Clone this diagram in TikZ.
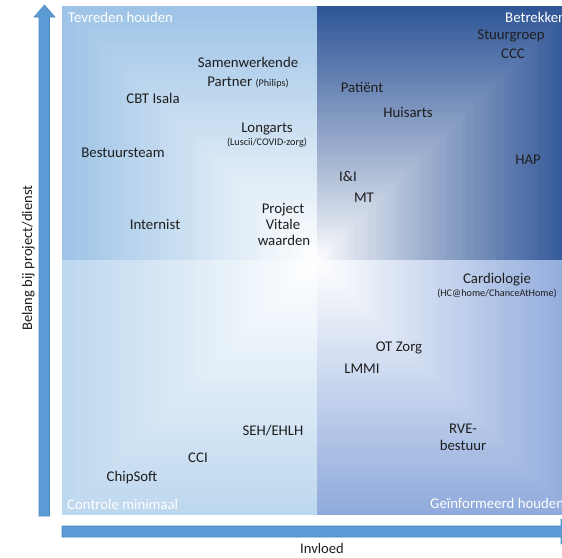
\documentclass[tikz,border=0pt]{standalone}
\usepackage{fontspec}
\setmainfont{Carlito}
\definecolor{ulc}{HTML}{9DC3E6}
\definecolor{urc}{HTML}{2F5597}
\definecolor{llc}{HTML}{BDD7EE}
\definecolor{lrc}{HTML}{8FAADC}
\definecolor{arrowfill}{HTML}{5B9BD5}
\definecolor{arrowline}{HTML}{4F88BE}
\definecolor{txt}{HTML}{1E1E1E}
\tikzset{
  lbl/.style={font=\fontsize{14.8}{17}\selectfont, text=txt, inner sep=0pt, anchor=base},
  sml/.style={font=\fontsize{10.2}{12}\selectfont, text=txt, inner sep=0pt, anchor=base},
  corner/.style={font=\fontsize{14.8}{17}\selectfont, text=white, inner sep=0pt, anchor=base west},
  axislbl/.style={font=\fontsize{14.6}{17}\selectfont, text=txt, inner sep=0pt, anchor=base},
  axisarrow/.style={fill=arrowfill, draw=arrowline, line width=0.6pt, line join=miter}
}
\begin{document}
\begin{tikzpicture}[x=1pt,y=-1pt]
\useasboundingbox (0,0) rectangle (562,557);
\clip (0,0) rectangle (562,557);
% quadrant gradients (rectangular gradient from the centre)
\foreach \i in {60,59,...,1}{
  \pgfmathsetmacro\t{\i/60}
  \pgfmathtruncatemacro\pa{100*\t}
  \pgfmathtruncatemacro\pb{100*(\t^0.9)}
  \fill[ulc!\pa!white] (317,260) rectangle ({317-255*\t},{260-254*\t});
  \fill[urc!\pb!white] (317,260) rectangle ({317+255*\t},{260-254*\t});
  \fill[llc!\pa!white] (317,260) rectangle ({317-255*\t},{260+255*\t});
  \fill[lrc!\pa!white] (317,260) rectangle ({317+255*\t},{260+255*\t});
}
% axis arrows
\draw[axisarrow] (39,516) -- (39,17) -- (34,17) -- (44.5,5) -- (55,17) -- (49.5,17) -- (49.5,516) -- cycle;
\draw[axisarrow] (62,526) -- (561,526) -- (561,519) -- (575,531.5) -- (561,544) -- (561,537) -- (62,537) -- cycle;
% corner titles
\node[corner] (tevreden) at (68,22) {Tevreden houden};
\node[corner] (betrekken) at (505,22) {Betrekken};
\node[corner] (controle) at (67,509) {Controle minimaal};
\node[corner] (geinf) at (430,508) {Geïnformeerd houden};
% upper right
\node[lbl] (stuurgroep) at (511,39) {Stuurgroep};
\node[lbl] (ccc) at (513,58) {CCC};
\node[lbl] (patient) at (362,92) {Patiënt};
\node[lbl] (huisarts) at (408,117) {Huisarts};
\node[lbl] (hap) at (528,164) {HAP};
\node[lbl] (ii) at (348,181) {I\&I};
\node[lbl] (mt) at (364,202) {MT};
% upper left
\node[lbl] (samen) at (248,67) {Samenwerkende};
\node[lbl] (partner) at (248,86) {Partner {\fontsize{10.2}{12}\selectfont(Philips)}};
\node[lbl] (cbt) at (153,103) {CBT Isala};
\node[lbl] (longarts) at (267,132) {Longarts};
\node[sml] (luscii) at (267,145.5) {(Luscii/COVID-zorg)};
\node[lbl] (bestuursteam) at (123,157) {Bestuursteam};
\node[lbl] (project) at (283,213) {Project};
\node[lbl] (vitale) at (283,229) {Vitale};
\node[lbl] (waarden) at (284,245) {waarden};
\node[lbl] (internist) at (155,229) {Internist};
% lower right
\node[lbl] (cardio) at (497,283) {Cardiologie};
\node[sml] (hcathome) at (497,296.5) {(HC@home/ChanceAtHome)};
\node[lbl] (otzorg) at (399,351) {OT Zorg};
\node[lbl] (lmmi) at (362,373) {LMMI};
\node[lbl] (rve) at (463,433) {RVE-};
\node[lbl] (bestuur) at (463,450) {bestuur};
% lower left
\node[lbl] (seh) at (273,435) {SEH/EHLH};
\node[lbl] (cci) at (198,462) {CCI};
\node[lbl] (chipsoft) at (132,481) {ChipSoft};
% axis labels
\node[axislbl] (invloed) at (322,553) {Invloed};
\node[axislbl, rotate=90] (belang) at (32,258) {Belang bij project/dienst};
\end{tikzpicture}
\end{document}
